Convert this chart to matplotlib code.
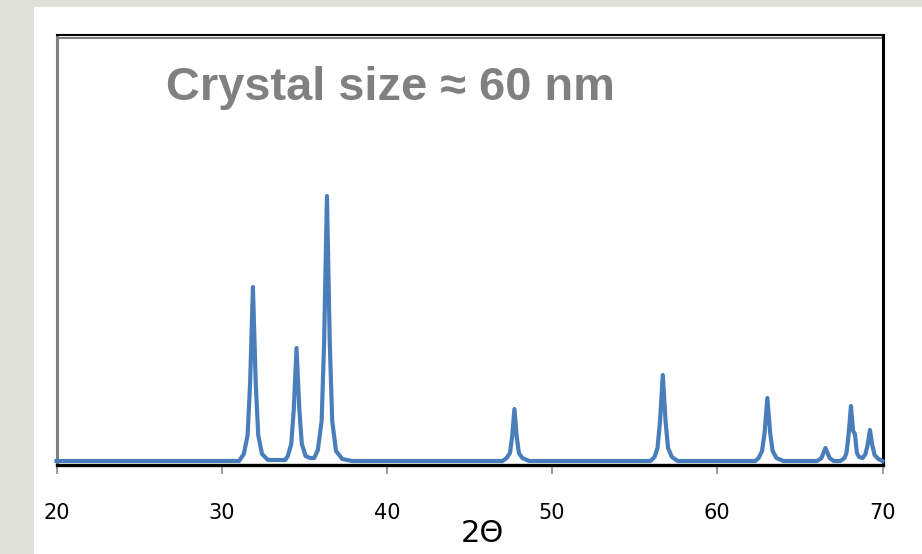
import matplotlib
matplotlib.use('Agg')
import matplotlib.pyplot as plt
from matplotlib.lines import Line2D
from matplotlib.patches import Rectangle

# XRD pattern, vertices (2theta in degrees, intensity a.u.)
two_theta = [20.0, 31.05, 31.34, 31.57, 31.72, 31.89, 32.06, 32.21, 32.44, 32.8,
             33.85, 34.0, 34.21, 34.36, 34.53, 34.7, 34.85, 35.08, 35.35,
             35.6, 35.82, 36.05, 36.2, 36.37, 36.54, 36.69, 36.92, 37.3, 37.9,
             47.0, 47.25, 47.45, 47.58, 47.72, 47.86, 47.99, 48.2, 48.6,
             55.95, 56.2, 56.38, 56.53, 56.7, 56.87, 57.02, 57.25, 57.6,
             62.3, 62.5, 62.71, 62.86, 63.03, 63.2, 63.35, 63.58, 64.0,
             66.05, 66.3, 66.55, 66.8, 67.05,
             67.45, 67.7, 67.82, 67.94, 68.09, 68.22, 68.33, 68.45, 68.58,
             68.8, 68.97, 69.1, 69.24, 69.38, 69.52, 69.75, 70.0]
intensity = [0, 0, 7, 26, 78, 174, 78, 26, 7, 1,
             1, 5, 17, 51, 113, 51, 17, 5, 3,
             3, 11, 40, 119, 265, 119, 40, 10, 2, 0,
             0, 3, 8, 24, 52, 24, 8, 3, 0,
             0, 4, 13, 39, 86, 39, 13, 4, 0,
             0, 3, 10, 28, 63, 28, 10, 3, 0,
             0, 3, 13, 3, 0,
             0, 3, 8, 25, 55, 30, 27, 8, 4,
             3, 7, 16, 31, 16, 6, 2, 0]

ticks = [20, 30, 40, 50, 60, 70]
title = 'Crystal size \u2248 60 nm'

W, H = 922, 554
fig = plt.figure(figsize=(W / 100, H / 100), dpi=100, facecolor='#e0e0db')
fig.add_artist(Rectangle((34 / W, 0), 1 - 34 / W, 1 - 7 / H,
                         transform=fig.transFigure, facecolor='white',
                         edgecolor='none', zorder=0))

ax = fig.add_axes([56.5 / W, (H - 465) / H, (882.5 - 56.5) / W, (465 - 35) / H])
ax.set_facecolor('white')
ax.plot(two_theta, intensity, color='#4a7ebb', lw=3.0, clip_on=False, zorder=3)

ax.set_xlim(20, 70)
ax.set_ylim(-4, 426)
ax.set_yticks([])
ax.set_xticks(ticks)
ax.tick_params(axis='x', direction='out', length=6.5, width=1.1, color='#808080',
               labelsize=15, labelcolor='black', pad=21)

ax.spines['left'].set_color('#7f7f7f')
ax.spines['left'].set_linewidth(2.2)
ax.spines['bottom'].set_color('black')
ax.spines['bottom'].set_linewidth(2.4)
ax.spines['right'].set_color('black')
ax.spines['right'].set_linewidth(2.2)
ax.spines['top'].set_color('black')
ax.spines['top'].set_linewidth(1.5)

# grey inner edge under the top frame
fig.add_artist(Line2D([58 / W, 881 / W], [1 - 38 / H, 1 - 38 / H],
                      color='#808080', lw=1.5))

fig.text(166 / W, 1 - 100 / H, title, fontsize=33.8, fontweight='bold',
         family='Liberation Sans', color='#808080', ha='left', va='baseline')
fig.text(482 / W, 1 - 519 / H, '2\u0398', fontsize=22, color='black',
         ha='center', va='top')

fig.savefig('out.png', dpi=100, facecolor=fig.get_facecolor())
